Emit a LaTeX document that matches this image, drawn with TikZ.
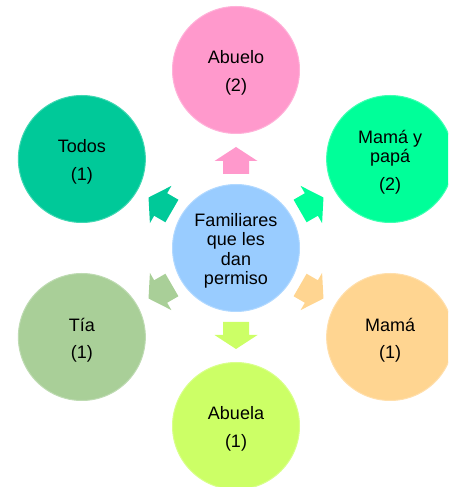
\documentclass[tikz,border=0pt]{standalone}
\usepackage{fontspec}
\setmainfont{Liberation Sans}
\usetikzlibrary{calc}
\definecolor{cCenter}{HTML}{99CCFF}
\definecolor{cAbuelo}{HTML}{FF99CC}
\definecolor{cPapa}{HTML}{00FF99}
\definecolor{cMama}{HTML}{FFD591}
\definecolor{cAbuela}{HTML}{CCFF66}
\definecolor{cTia}{HTML}{A9CF98}
\definecolor{cTodos}{HTML}{00C999}
\begin{document}
\begin{tikzpicture}[x=1pt,y=1pt,
  bubble/.style={circle, minimum size=127pt, inner sep=0pt, fill=#1, draw=#1!75!white, line width=1pt},
  label/.style={align=center, text=black, inner sep=0pt, font=\fontsize{18}{19.5}\selectfont},
  blockarrow/.style={fill=#1}]
\useasboundingbox (0,0) rectangle (448,487);
\clip (0,0) rectangle (448,487);
\coordinate (C) at (236,239);
\node[bubble=cCenter] (center) at (C) {};
\node[bubble=cAbuelo] (abuelo) at ($(C)+(90:178)$) {};
\node[bubble=cPapa] (papa) at ($(C)+(30:178)$) {};
\node[bubble=cMama] (mama) at ($(C)+(-30:178)$) {};
\node[bubble=cAbuela] (abuela) at ($(C)+(-90:178)$) {};
\node[bubble=cTia] (tia) at ($(C)+(-150:178)$) {};
\node[bubble=cTodos] (todos) at ($(C)+(150:178)$) {};
\node[label] (tcenter) at ([yshift=-3pt]center.center) {Familiares\\que les\\dan\\permiso};
\node[label] (tabuelo) at ([yshift=-3pt]abuelo.center) {Abuelo\\[8pt](2)};
\node[label] (tpapa) at ([yshift=-3pt]papa.center) {Mamá y\\papá\\[8pt](2)};
\node[label] (tmama) at ([yshift=-3pt]mama.center) {Mamá\\[8pt](1)};
\node[label] (tabuela) at ([yshift=-3pt]abuela.center) {Abuela\\[8pt](1)};
\node[label] (ttia) at ([yshift=-3pt]tia.center) {Tía\\[8pt](1)};
\node[label] (ttodos) at ([yshift=-3pt]todos.center) {Todos\\[8pt](1)};
\foreach \ang/\col in {90/cAbuelo,30/cPapa,-30/cMama,-90/cAbuela,-150/cTia,150/cTodos}{
  \begin{scope}[shift={(C)}, rotate=\ang]
    \fill[blockarrow=\col] (74,-13) -- (87,-13) -- (87,-21.5) -- (101,0) -- (87,21.5) -- (87,13) -- (74,13) -- cycle;
  \end{scope}
}
\end{tikzpicture}
\end{document}
